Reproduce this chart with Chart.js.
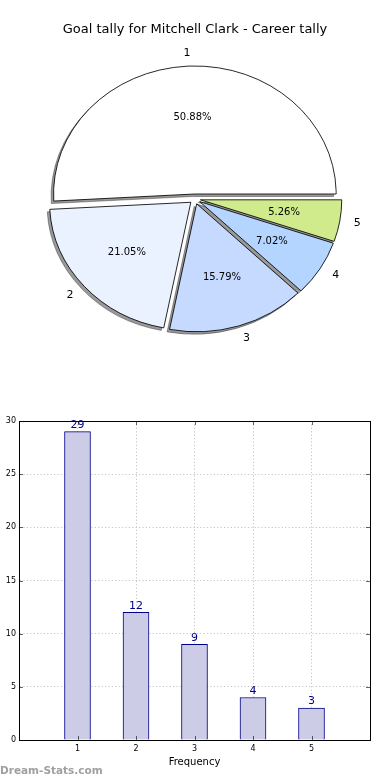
<!DOCTYPE html>
<html><head><meta charset="utf-8">
<script src="https://cdn.jsdelivr.net/npm/chart.js@4.4.1/dist/chart.umd.min.js"></script>
<style>
html,body{margin:0;padding:0;background:#fff;width:390px;height:780px;overflow:hidden;position:relative}
#pieWrap{position:absolute;left:0;top:0;width:390px;height:400px}
#barWrap{position:absolute;left:-10px;top:390px;width:400px;height:390px}
#wm{position:absolute;left:0;top:764px;font:bold 10.5px "DejaVu Sans",sans-serif;color:#a0a0a0;white-space:nowrap}
</style></head><body>
<div id="pieWrap"><canvas id="pie" width="390" height="400"></canvas></div>
<div id="barWrap"><canvas id="bar" width="400" height="390"></canvas></div>
<div id="wm">Dream-Stats.com</div>
<script>
// ---- data ----
const chartTitle = 'Goal tally for Mitchell Clark - Career tally';
const categories = ['1', '2', '3', '4', '5'];
const goalCounts = [29, 12, 9, 4, 3];
const pieColors = ['#ffffff', '#eaf1ff', '#c6d9ff', '#b4d5ff', '#cfeb8b'];
const xAxisTitle = 'Frequency';
const yAxisTitle = 'Number of Games';

const FONT = '"DejaVu Sans", sans-serif';
const SX = 1.104;    // horizontal stretch of the pie (ellipse)
const EXPLODE = 5;   // px
const SHADOW = { dx: -2.5, dy: 2.5 };

// Chart.js goes clockwise from its start, matplotlib counter-clockwise: reverse
const pieLabels = categories.slice().reverse();
const pieData = goalCounts.slice().reverse();
const pieBg = pieColors.slice().reverse();
const pieTotal = goalCounts.reduce((s, v) => s + v, 0);

function midAngle(arc) {
  const p = arc.getProps(['startAngle', 'endAngle'], true);
  return (p.startAngle + p.endAngle) / 2;
}

const pieDecor = {
  id: 'pieDecor',
  beforeDatasetsDraw(chart) {
    const ctx = chart.ctx;
    const meta = chart.getDatasetMeta(0);
    const drawArc = (arc, shadow) => {
      const m = midAngle(arc);
      ctx.save();
      if (shadow) {
        ctx.translate(SHADOW.dx, SHADOW.dy);
        ctx.filter = 'brightness(0) opacity(0.4)';
      }
      ctx.translate(arc.x, arc.y); ctx.scale(SX, 1); ctx.translate(-arc.x, -arc.y);
      ctx.translate(EXPLODE * Math.cos(m), EXPLODE * Math.sin(m));
      arc.draw(ctx);
      ctx.restore();
    };
    meta.data.forEach(a => drawArc(a, true));
    meta.data.forEach(a => drawArc(a, false));
    return false;
  },
  afterDraw(chart) {
    const ctx = chart.ctx;
    const meta = chart.getDatasetMeta(0);
    const ds = chart.data.datasets[0];
    ctx.save();
    ctx.fillStyle = '#000';
    ctx.textBaseline = 'middle';
    meta.data.forEach((arc, i) => {
      const p = arc.getProps(['x', 'y', 'outerRadius'], true);
      const mid = midAngle(arc);
      const r = p.outerRadius;
      const c = Math.cos(mid), s = Math.sin(mid);
      const d1 = EXPLODE + 1.1 * r;
      ctx.font = '11px ' + FONT;
      ctx.textAlign = c > 0 ? 'left' : 'right';
      ctx.fillText(chart.data.labels[i], p.x + SX * d1 * c, p.y + d1 * s);
      const d2 = EXPLODE + 0.6 * r;
      ctx.font = '10px ' + FONT;
      ctx.textAlign = 'center';
      ctx.fillText((ds.data[i] / pieTotal * 100).toFixed(2) + '%', p.x + SX * d2 * c, p.y + d2 * s);
    });
    ctx.restore();
  }
};

new Chart(document.getElementById('pie'), {
  type: 'pie',
  data: {
    labels: pieLabels,
    datasets: [{
      data: pieData,
      backgroundColor: pieBg,
      borderColor: '#000',
      borderWidth: 0.8,
      offset: 0,
      hoverOffset: 0
    }]
  },
  options: {
    responsive: false, animation: false, events: [],
    rotation: 90,
    radius: 128,
    layout: { padding: { top: 0, bottom: 47.6, left: 0, right: 0 } },
    plugins: {
      legend: { display: false },
      tooltip: { enabled: false },
      title: {
        display: true, text: chartTitle, color: '#000',
        font: { family: FONT, size: 13, weight: 'normal', lineHeight: 1.2 },
        padding: { top: 22, bottom: 8 }
      }
    }
  },
  plugins: [pieDecor]
});

// ---- bar chart ----
const barDecor = {
  id: 'barDecor',
  afterDatasetsDraw(chart) {
    const ctx = chart.ctx;
    const meta = chart.getDatasetMeta(0);
    ctx.save();
    ctx.fillStyle = '#00008b';
    ctx.font = '11px ' + FONT;
    ctx.textAlign = 'center';
    ctx.textBaseline = 'bottom';
    meta.data.forEach((bar, i) => {
      ctx.fillText(String(chart.data.datasets[0].data[i].y), bar.x, bar.y - 1);
    });
    ctx.restore();
  },
  afterDraw(chart) {
    const ctx = chart.ctx;
    const a = chart.chartArea;
    const xs = chart.scales.x, ys = chart.scales.y;
    ctx.save();
    ctx.strokeStyle = '#000';
    ctx.lineWidth = 1;
    ctx.strokeRect(Math.round(a.left) + 0.5, Math.round(a.top) + 0.5,
                   Math.round(a.right - a.left), Math.round(a.bottom - a.top));
    ctx.lineWidth = 0.6;
    ctx.beginPath();
    ys.ticks.forEach(t => {
      const y = Math.round(ys.getPixelForValue(t.value)) + 0.5;
      ctx.moveTo(a.left, y); ctx.lineTo(a.left + 4, y);
      ctx.moveTo(a.right, y); ctx.lineTo(a.right - 4, y);
    });
    xs.ticks.forEach(t => {
      if (t.value < 1 || t.value > 5) return;
      const x = Math.round(xs.getPixelForValue(t.value)) + 0.5;
      ctx.moveTo(x, a.bottom); ctx.lineTo(x, a.bottom - 4);
      ctx.moveTo(x, a.top); ctx.lineTo(x, a.top + 4);
    });
    ctx.stroke();
    ctx.restore();
  }
};

new Chart(document.getElementById('bar'), {
  type: 'bar',
  data: {
    datasets: [{
      data: categories.map((c, i) => ({ x: Number(c), y: goalCounts[i] })),
      backgroundColor: '#ccccE6',
      borderColor: '#00008b',
      borderWidth: 1,
      barThickness: 26
    }]
  },
  options: {
    responsive: false, animation: false, events: [],
    layout: { padding: { left: 0, right: 20, top: 31, bottom: 0 } },
    plugins: { legend: { display: false }, tooltip: { enabled: false } },
    scales: {
      x: {
        type: 'linear', min: 0, max: 6, offset: false,
        grid: { offset: false, color: '#c4c4c4', lineWidth: 1, drawTicks: false },
        border: { display: true, color: '#000', width: 1, dash: [1.2, 2.2] },
        ticks: {
          stepSize: 1, autoSkip: false, maxRotation: 0, padding: 4, color: '#000',
          font: { family: FONT, size: 8 },
          callback: v => (v >= 1 && v <= 5) ? String(v) : ''
        },
        title: { display: true, text: xAxisTitle, color: '#000', font: { family: FONT, size: 10 }, padding: { top: 0, bottom: 12 } },
        afterFit(s) { s.height = 40; }
      },
      y: {
        min: 0, max: 30,
        grid: { color: '#c4c4c4', lineWidth: 1, drawTicks: false },
        border: { display: true, color: '#000', width: 1, dash: [1.2, 2.2] },
        ticks: { stepSize: 5, padding: 3, color: '#000', font: { family: FONT, size: 8 } },
        title: { display: true, text: yAxisTitle, color: '#000', font: { family: FONT, size: 10 }, padding: { top: 0, bottom: 0 } },
        afterFit(s) { s.width = 29; }
      }
    }
  },
  plugins: [barDecor]
});
</script>
</body></html>
